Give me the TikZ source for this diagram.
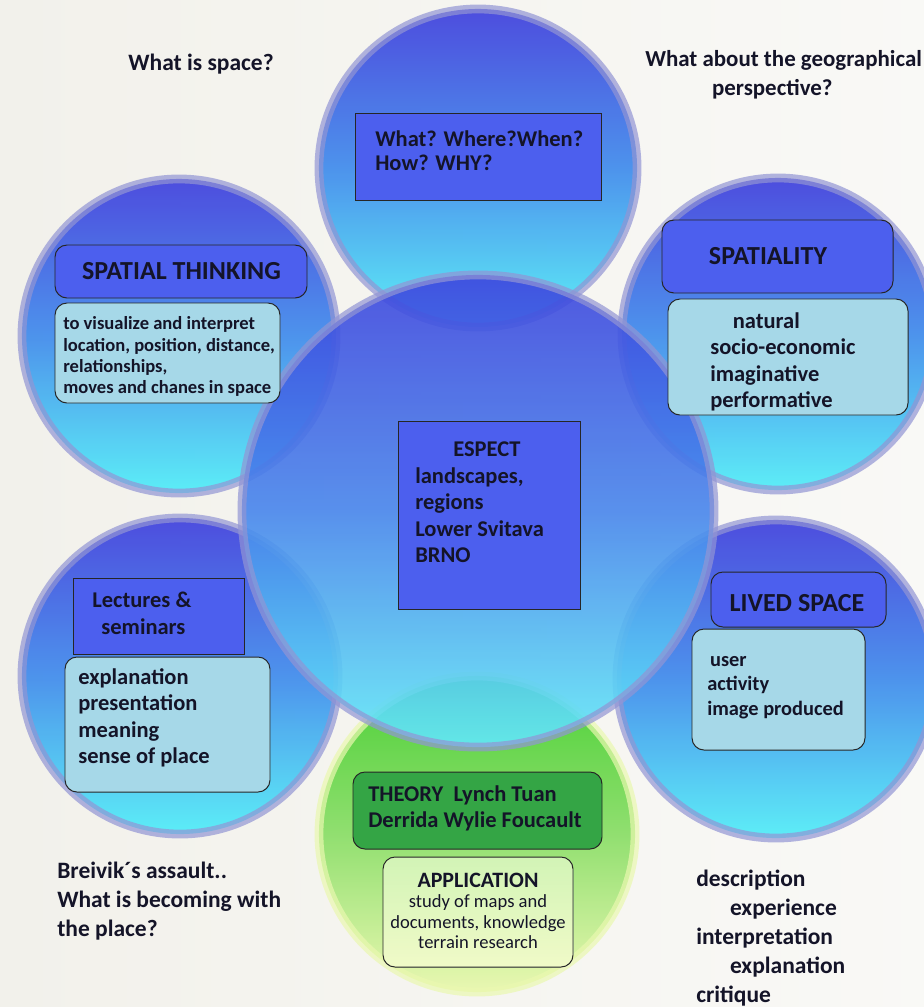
\documentclass[tikz,border=0pt]{standalone}
\usepackage{fontspec}
\setmainfont{Carlito}
\usetikzlibrary{positioning}

\definecolor{bgpaper}{HTML}{F2F1EB}
\definecolor{ballTop}{HTML}{4848DE}
\definecolor{ballMid}{HTML}{4890EC}
\definecolor{ballBot}{HTML}{58EEF8}
\definecolor{ballRim}{HTML}{9295D4}
\definecolor{coreTop}{HTML}{3E46DE}
\definecolor{coreMid}{HTML}{4886EC}
\definecolor{coreBot}{HTML}{62EAF8}
\definecolor{greenTop}{HTML}{45CF30}
\definecolor{greenMid}{HTML}{8EDF6C}
\definecolor{greenBot}{HTML}{EAF8B0}
\definecolor{boxBlue}{HTML}{4C5FEE}
\definecolor{boxCyan}{HTML}{A6D8E8}
\definecolor{boxGreen}{HTML}{34A545}
\definecolor{boxLight}{HTML}{D2F4B6}
\definecolor{inkDark}{HTML}{141428}

\begin{document}
\begin{tikzpicture}[x=0.025cm, y=-0.025cm,
	ball/.style={draw=ballRim, draw opacity=0.7, line width=0.22cm, top color=ballTop, bottom color=ballBot, middle color=ballMid, fill opacity=0.97},
	greenball/.style={ball, draw=greenBot, top color=greenTop, bottom color=greenBot, middle color=greenMid},
	coreball/.style={ball, top color=coreTop, bottom color=coreBot, middle color=coreMid, fill opacity=0.9},
	sqbox/.style 2 args={draw=black!85, line width=0.7pt, fill=boxBlue, minimum width=#1*0.025cm, minimum height=#2*0.025cm, inner sep=0pt},
	rbox/.style 2 args={sqbox={#1}{#2}, rounded corners=0.3cm},
	words/.style={text=inkDark, align=left, inner sep=0pt, anchor=west},
	freetext/.style={words, font=\fontsize{16.7}{20.6}\selectfont\bfseries},
	qtext/.style={words, font=\fontsize{16}{17}\selectfont\bfseries},
	headtext/.style={words, anchor=center, font=\fontsize{18.5}{20}\selectfont\bfseries},
	listtext/.style={words, font=\fontsize{16}{18.8}\selectfont\bfseries},
	midtext/.style={words, font=\fontsize{14.5}{17.4}\selectfont\bfseries},
	smalltext/.style={words, font=\fontsize{13.2}{15}\selectfont\bfseries}]

	\useasboundingbox (0,0) rectangle (924,1007);
	\clip (0,0) rectangle (924,1007);
	\fill [left color=bgpaper, right color=white!55!bgpaper] (0,0) rectangle (924,1007);

	% outer balls
	\draw [ball] (478,168) circle [radius=3.975cm];
	\draw [ball] (179,336) circle [radius=3.925cm];
	\draw [ball] (778,334) circle [radius=3.9cm];
	\draw [ball] (180,676) circle [radius=3.95cm];
	\draw [ball] (776,679) circle [radius=3.975cm];
	\draw [greenball] (477,834) circle [radius=3.95cm];
	% centre ball
	\draw [coreball] (478,511) circle [radius=5.9cm];

	% top
	\node [sqbox={246}{87}] (whatbox) at (478,156.5) {};
	\node [qtext] (whattxt) at (375,151) {What? Where?When?\\How? WHY?};

	% spatial thinking
	\node [rbox={252}{53}] (thinkbox) at (181,271.5) {};
	\node [headtext] (thinktxt) at (181.5,271) {SPATIAL THINKING};
	\node [rbox={225}{100}, fill=boxCyan] (thinksub) at (167.5,353) {};
	\node [smalltext] (thinksubtxt) at (63,356.5) {to visualize and interpret\\location, position, distance,\\relationships,\\moves and chanes in space};

	% spatiality
	\node [rbox={231}{73}] (spatbox) at (777.5,256.5) {};
	\node [headtext] (spattxt) at (768,256) {SPATIALITY};
	\node [rbox={240}{116}, fill=boxCyan] (spatsub) at (788,357) {};
	\node [listtext] (spatsubtxt) at (710,362) {\hspace*{16pt}natural\\socio-economic\\imaginative\\performative};

	% centre
	\node [sqbox={182}{188}] (espbox) at (489,515) {};
	\node [listtext] (esptxt) at (415,502.5) {\hspace*{27pt}ESPECT\\landscapes,\\regions\\Lower Svitava\\BRNO};

	% lectures
	\node [sqbox={171}{76}] (lecbox) at (158.5,616) {};
	\node [listtext] (lectxt) at (92,613.5) {Lectures \&\\\hspace*{6.5pt}seminars};
	\node [rbox={205}{135}, fill=boxCyan] (lecsub) at (167.5,724.5) {};
	\node [listtext] (lecsubtxt) at (78,718) {explanation\\presentation\\meaning\\sense of place};

	% lived space
	\node [rbox={175}{55}] (livedbox) at (798.5,599.5) {};
	\node [headtext] (livedtxt) at (797,603) {LIVED SPACE};
	\node [rbox={173}{121}, fill=boxCyan] (livedsub) at (778.5,689.5) {};
	\node [midtext] (livedsubtxt) at (707,687.5) {\hspace*{2pt}user\\activity\\image produced};

	% theory and application
	\node [rbox={249}{77}, fill=boxGreen] (theobox) at (477.5,810.5) {};
	\node [listtext] (theotxt) at (368,808.5) {THEORY~~Lynch Tuan\\Derrida Wylie Foucault};
	\node [rbox={190}{110}, top color=boxLight, bottom color=greenBot!70!white] (appbox) at (478,912) {};
	\node [words, anchor=center, align=center, font=\fontsize{13.2}{14.6}\selectfont] (apptxt) at (478,911)
		{{\fontsize{15.6}{19}\selectfont\bfseries APPLICATION}\\study of maps and\\documents, knowledge\\terrain research};

	% questions round the edge
	\node [freetext, anchor=center] (spaceq) at (201,64) {What is space?};
	\node [freetext, font=\fontsize{16.3}{20.6}\selectfont\bfseries] (geoq) at (645,74.5) {What about the geographical\\\hspace*{47.5pt}perspective?};
	\node [freetext] (breivik) at (57,901.5) {Breivik´s assault..\\What is becoming with\\the place?};
	\node [freetext] (steps) at (696,938) {description\\\hspace*{24pt}experience\\interpretation\\\hspace*{24pt}explanation\\critique};
\end{tikzpicture}
\end{document}
